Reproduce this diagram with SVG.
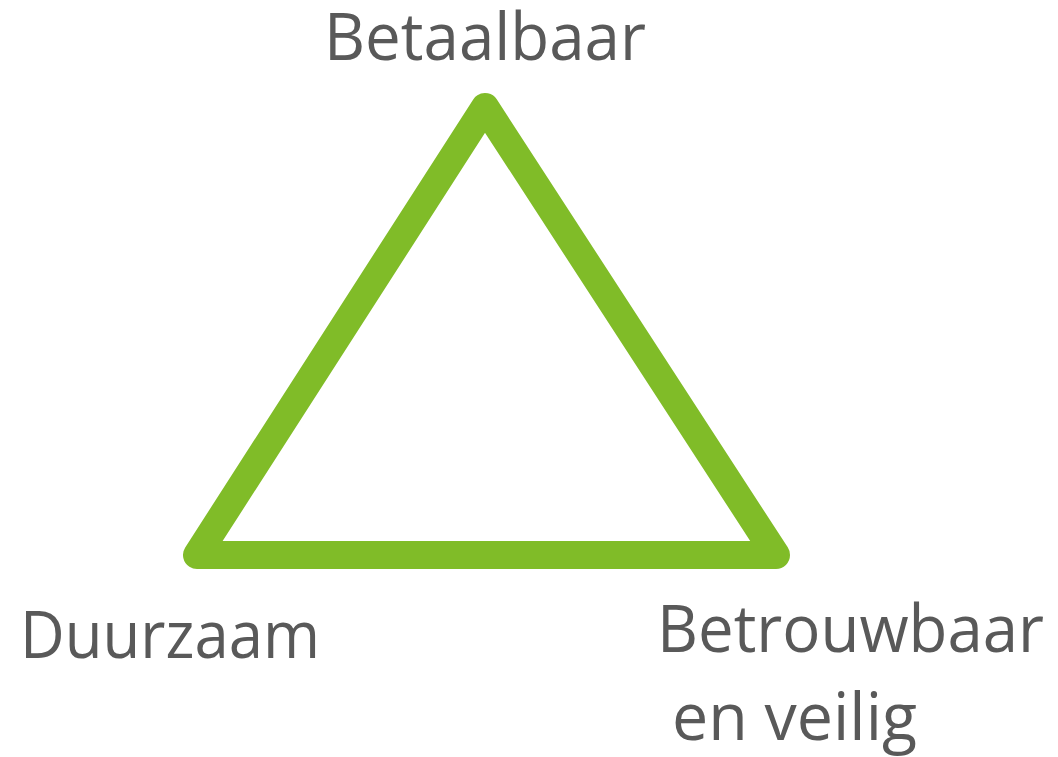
<svg xmlns="http://www.w3.org/2000/svg" width="1058" height="757" viewBox="0 0 1058 757">
<style>
.lbl{font-family:"Open Sans","Liberation Sans",sans-serif;font-size:66px;fill:#595959}
.tri{fill:none;stroke:#80BC28;stroke-width:28;stroke-linejoin:round}
</style>
<rect width="1058" height="757" fill="#fff"/>
<g id="triangle"><polygon class="tri" points="485,107 197,555 776,555"/></g>
<g id="connectors"></g>
<g id="n-betaalbaar"><text class="lbl" x="324" y="60" textLength="322" lengthAdjust="spacingAndGlyphs">Betaalbaar</text></g>
<g id="n-duurzaam"><text class="lbl" x="20" y="658" textLength="300" lengthAdjust="spacingAndGlyphs">Duurzaam</text></g>
<g id="n-betrouwbaar"><text class="lbl" x="657" y="652" textLength="387" lengthAdjust="spacingAndGlyphs">Betrouwbaar</text><text class="lbl" x="672" y="740" textLength="245" lengthAdjust="spacingAndGlyphs">en veilig</text></g>
</svg>
